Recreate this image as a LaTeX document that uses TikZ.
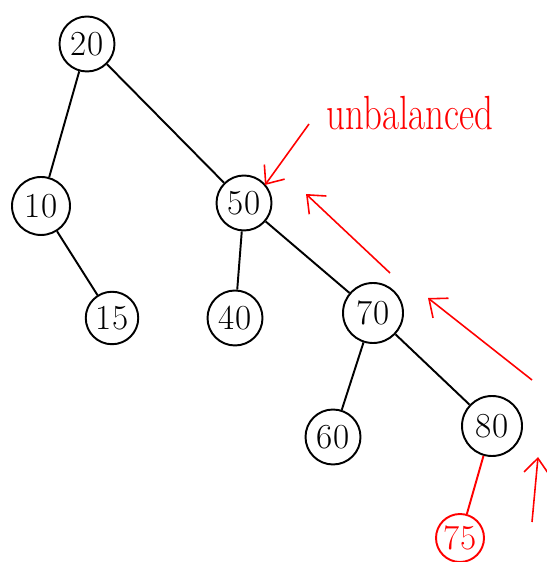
\documentclass[tikz,border=0pt]{standalone}
\usetikzlibrary{arrows.meta}
\tikzset{
  vert/.style={circle, draw, line width=1.1pt, minimum size=1.1cm, inner sep=0pt, font=\fontsize{20}{24}\selectfont},
  edge/.style={line width=1.1pt},
  mark red/.style={draw=red, text=red, line width=0.9pt, -{Straight Barb[length=3mm, width=5mm]}}
}
\begin{document}
\begin{tikzpicture}[scale=1]
                    \useasboundingbox (0,0) rectangle (10.92,11.24);
                    \node[vert] (n20) at (1.74,10.36) {20};
                    \node[vert, minimum size=1.16cm] (n10) at (0.82,7.12) {10};
                    \node[vert] (n50) at (4.88,7.18) {50};
                    \node[vert, minimum size=1.05cm] (n15) at (2.24,4.88) {15};
                    \node[vert] (n40) at (4.70,4.88) {40};
                    \node[vert, minimum size=1.2cm] (n70) at (7.46,4.98) {70};
                    \node[vert] (n60) at (6.66,2.50) {60};
                    \node[vert, minimum size=1.2cm] (n80) at (9.84,2.72) {80};
                    \node[vert, draw=red, text=red, minimum size=0.96cm] (n75) at (9.20,0.48) {75};

                    \draw[edge] (n20)--(n10);
                    \draw[edge] (n20)--(n50);
                    \draw[edge] (n10)--(n15);
                    \draw[edge] (n50)--(n40);
                    \draw[edge] (n50)--(n70);
                    \draw[edge] (n70)--(n60);
                    \draw[edge] (n70)--(n80);
                    \draw[edge, draw=red] (n80)--(n75);

                    % path back up to the root
                    \node[text=red, font=\fontsize{21}{24}\selectfont, yscale=1.3] (lbl) at (8.20,8.98) {unbalanced};
                    \coordinate (p1) at (6.18,8.76);
                    \coordinate (p2) at (7.80,5.78);
                    \coordinate (p3) at (10.64,3.64);
                    \coordinate (p4) at (10.64,0.80);
                    \draw[mark red] (p1)--(5.30,7.54);
                    \draw[mark red] (p2)--(6.12,7.36);
                    \draw[mark red] (p3)--(8.56,5.28);
                    \draw[mark red] (p4)--(10.76,2.10);
                \end{tikzpicture}
\end{document}
